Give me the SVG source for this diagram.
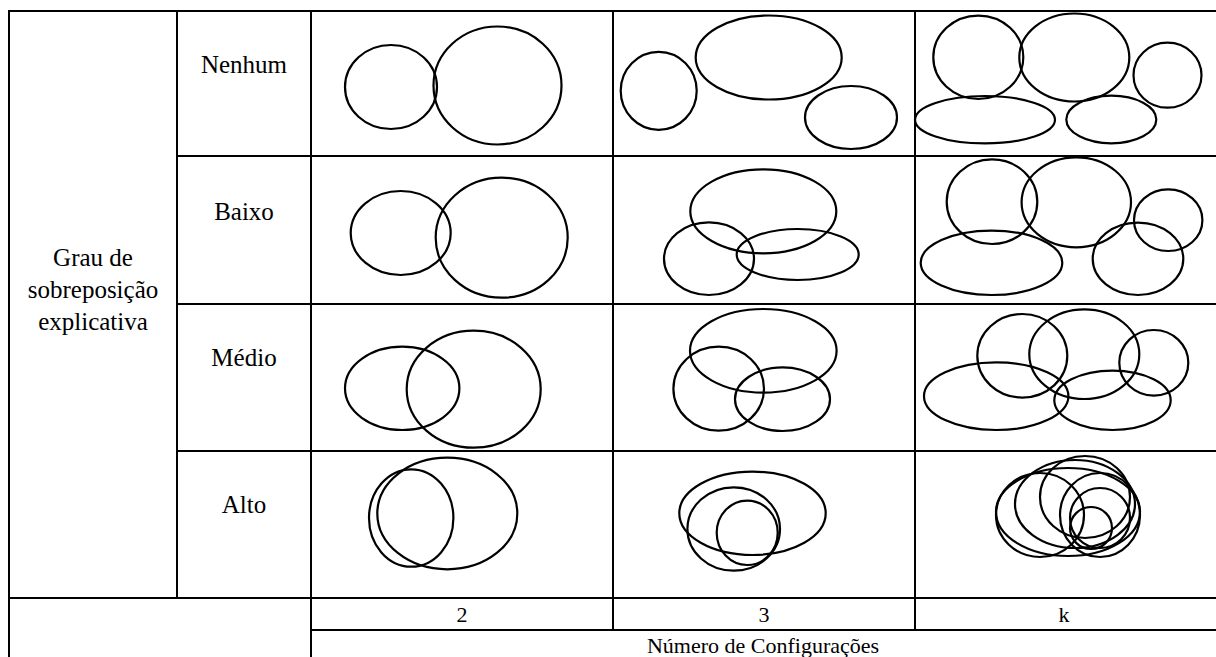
<svg xmlns="http://www.w3.org/2000/svg" width="1216" height="657" viewBox="0 0 1216 657">
<style>
.grid line{stroke:#000;stroke-width:2;fill:none}
ellipse{fill:none;stroke:#000;stroke-width:2.2}
text{font-family:"Liberation Serif","Times New Roman",serif;fill:#000;text-anchor:middle}
.lbl{font-size:25px}
.ax{font-size:22px}
</style>
<rect width="1216" height="657" fill="#fff"/>
<g id="grid" class="grid">
<line x1="8" y1="11" x2="1216" y2="11"/>
<line x1="177" y1="156" x2="1216" y2="156"/>
<line x1="177" y1="304" x2="1216" y2="304"/>
<line x1="177" y1="451" x2="1216" y2="451"/>
<line x1="8" y1="598" x2="1216" y2="598"/>
<line x1="311" y1="630" x2="1216" y2="630"/>
<line x1="9" y1="10" x2="9" y2="657"/>
<line x1="177" y1="11" x2="177" y2="598"/>
<line x1="311" y1="11" x2="311" y2="657"/>
<line x1="613" y1="11" x2="613" y2="630"/>
<line x1="915" y1="11" x2="915" y2="630"/>
</g>
<g id="row-labels">
<text class="lbl" x="93" y="266">Grau de</text>
<text class="lbl" x="93" y="298">sobreposição</text>
<text class="lbl" x="93" y="330">explicativa</text>
<text class="lbl" x="244" y="73">Nenhum</text>
<text class="lbl" x="244" y="220">Baixo</text>
<text class="lbl" x="244" y="366">Médio</text>
<text class="lbl" x="244" y="513">Alto</text>
</g>
<g id="col-labels">
<text class="ax" x="462" y="622">2</text>
<text class="ax" x="764" y="622">3</text>
<text class="ax" x="1064" y="622">k</text>
<text class="ax" x="763" y="653">Número de Configurações</text>
</g>
<g id="nenhum-2">
<ellipse cx="391" cy="87" rx="46" ry="42"/>
<ellipse cx="497.5" cy="85.5" rx="64" ry="59"/>
</g>
<g id="nenhum-3">
<ellipse cx="658.7" cy="90.8" rx="38" ry="39"/>
<ellipse cx="768.7" cy="57.5" rx="73" ry="42"/>
<ellipse cx="851" cy="117.5" rx="46" ry="31.5"/>
</g>
<g id="nenhum-k">
<ellipse cx="978.3" cy="57.3" rx="45" ry="41.7"/>
<ellipse cx="1074.3" cy="57.5" rx="55" ry="44"/>
<ellipse cx="1167.5" cy="75.2" rx="34" ry="32.5"/>
<ellipse cx="985" cy="119.7" rx="70" ry="23.7"/>
<ellipse cx="1111.3" cy="119.5" rx="45" ry="23.8"/>
</g>
<g id="baixo-2">
<ellipse cx="400.7" cy="233" rx="50" ry="42"/>
<ellipse cx="501.7" cy="237.7" rx="66" ry="60"/>
</g>
<g id="baixo-3">
<ellipse cx="763.3" cy="211.3" rx="73" ry="42"/>
<ellipse cx="709" cy="258.7" rx="45" ry="36.3"/>
<ellipse cx="797.7" cy="254.5" rx="61" ry="25.5"/>
</g>
<g id="baixo-k">
<ellipse cx="992" cy="201.7" rx="45.3" ry="42.3"/>
<ellipse cx="1076.3" cy="202.3" rx="54.7" ry="45"/>
<ellipse cx="1168.2" cy="220.2" rx="34.2" ry="30.8"/>
<ellipse cx="991.5" cy="262.8" rx="70.8" ry="32.2"/>
<ellipse cx="1138" cy="258.8" rx="45.3" ry="36.2"/>
</g>
<g id="medio-2">
<ellipse cx="402.2" cy="388.3" rx="57.2" ry="41.7"/>
<ellipse cx="473.7" cy="389.2" rx="67" ry="58.5"/>
</g>
<g id="medio-3">
<ellipse cx="763.3" cy="350.8" rx="73.3" ry="41.8"/>
<ellipse cx="718.7" cy="388.7" rx="45.3" ry="42"/>
<ellipse cx="782.5" cy="399.2" rx="47.5" ry="31.8"/>
</g>
<g id="medio-k">
<ellipse cx="1022.3" cy="355.8" rx="45" ry="41.8"/>
<ellipse cx="1084.3" cy="354.2" rx="55" ry="44.8"/>
<ellipse cx="1153.8" cy="362.8" rx="34.5" ry="32.8"/>
<ellipse cx="996.2" cy="396.2" rx="72.2" ry="33.8"/>
<ellipse cx="1112.5" cy="400.3" rx="58.2" ry="29.7"/>
</g>
<g id="alto-2">
<ellipse cx="447.3" cy="513.5" rx="70" ry="55.8"/>
<ellipse cx="411.2" cy="518" rx="42.2" ry="48.7"/>
</g>
<g id="alto-3">
<ellipse cx="752.5" cy="513.3" rx="73.2" ry="41.7"/>
<ellipse cx="733.7" cy="529" rx="46.3" ry="41.7"/>
<ellipse cx="747.2" cy="532.8" rx="30.5" ry="32.2"/>
</g>
<g id="alto-k">
<ellipse cx="1068" cy="512" rx="72" ry="44"/>
<ellipse cx="1040" cy="515" rx="44" ry="42"/>
<ellipse cx="1075" cy="504" rx="60" ry="44"/>
<ellipse cx="1085" cy="497" rx="45" ry="41"/>
<ellipse cx="1100" cy="518" rx="30" ry="30"/>
<ellipse cx="1091" cy="528" rx="21" ry="21"/>
<ellipse cx="1100" cy="515" rx="40" ry="42"/>
</g>
</svg>
